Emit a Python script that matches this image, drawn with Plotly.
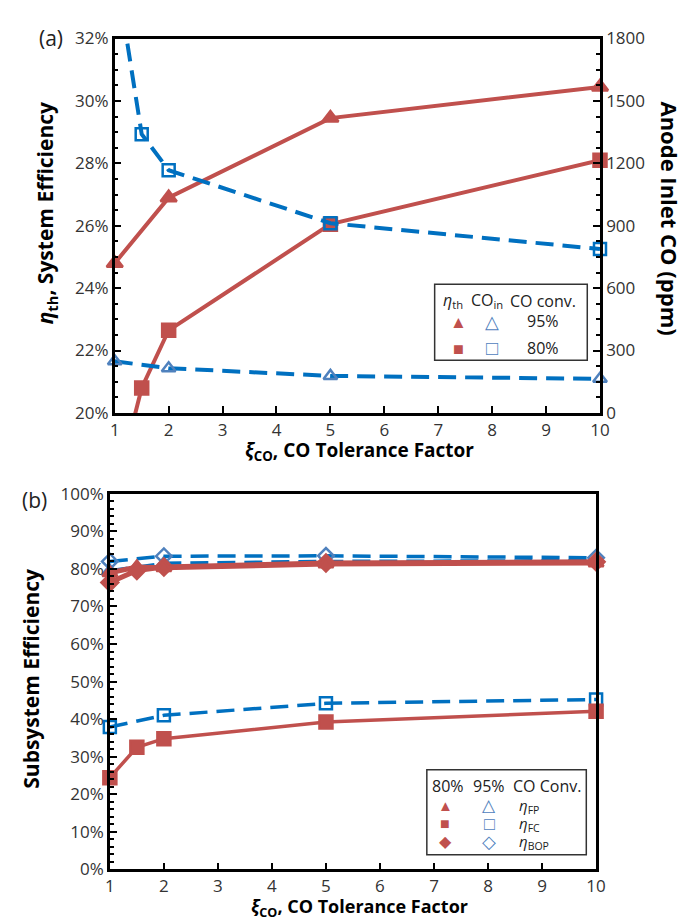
import plotly.graph_objects as go

W, H = 692, 922

# ---------- data: panel (a) ----------
eta_th_95_x = [1, 2, 5, 10]
eta_th_95 = [24.8, 26.9, 29.45, 30.45]          # % (left axis)
eta_th_80_x = [1, 1.5, 2, 5, 10]
eta_th_80 = [17.4, 20.8, 22.65, 26.05, 28.1]     # % (left axis)
co_in_95_x = [1, 2, 5, 10]
co_in_95 = [248, 215, 178, 164]                  # ppm (right axis)
co_in_80_x = [1, 1.5, 2, 5, 10]
co_in_80 = [2160, 1340, 1167, 912, 788]          # ppm (right axis)

# ---------- data: panel (b) ----------
xb = [1, 1.5, 2, 5, 10]
xb95 = [1, 2, 5, 10]
fp_80 = [79.0, 80.5, 80.3, 81.3, 81.6]
fc_80 = [24.4, 32.5, 34.8, 39.2, 42.1]
bop_80 = [76.4, 79.6, 80.5, 81.6, 81.9]
fp_95 = [79.5, 81.5, 82.0, 82.2]
fc_95 = [37.9, 41.0, 44.2, 45.2]
bop_95 = [82.0, 83.4, 83.5, 83.0]

RED = "#C0504D"
BLUE = "#0070C0"
BLUE_L = "#4F81BD"
FONT = "Open Sans"
DASH = "18px,9px"

def px(x):
    return x / W

def py(y):
    return 1 - y / H

fig = go.Figure()

def add_series(x, y, xaxis, yaxis, color, dash, width, symbol, msize, mcolor, mline, rng):
    fig.add_trace(go.Scatter(x=x, y=y, mode="lines", xaxis=xaxis, yaxis=yaxis,
                             line=dict(color=color, width=width, dash=dash),
                             showlegend=False, hoverinfo="skip"))
    lo, hi = rng
    xs = [a for a, b in zip(x, y) if lo <= b <= hi]
    ys = [b for b in y if lo <= b <= hi]
    fig.add_trace(go.Scatter(x=xs, y=ys, mode="markers", xaxis=xaxis, yaxis=yaxis,
                             cliponaxis=False,
                             marker=dict(symbol=symbol, size=msize, color=mcolor,
                                         line=dict(color=mline, width=2.5)),
                             showlegend=False, hoverinfo="skip"))

# panel (a)
add_series(co_in_95_x, co_in_95, "x", "y2", BLUE, DASH, 4, "triangle-up-open", 12, BLUE_L, BLUE_L, (0, 1800))
add_series(co_in_80_x, co_in_80, "x", "y2", BLUE, DASH, 4, "square-open", 12, BLUE, BLUE, (0, 1800))
add_series(eta_th_95_x, eta_th_95, "x", "y", RED, "solid", 4, "triangle-up", 14, RED, RED, (20, 32))
add_series(eta_th_80_x, eta_th_80, "x", "y", RED, "solid", 4, "square", 13, RED, RED, (20, 32))

# panel (b)
add_series(xb95, fc_95, "x2", "y3", BLUE, DASH, 3.5, "square-open", 12, BLUE, BLUE, (0, 100))
add_series(xb95, fp_95, "x2", "y3", BLUE, DASH, 3.5, "triangle-up-open", 12, BLUE_L, BLUE_L, (0, 100))
add_series(xb95, bop_95, "x2", "y3", BLUE, DASH, 3.5, "diamond-open", 12, BLUE_L, BLUE_L, (0, 100))
add_series(xb, fc_80, "x2", "y3", RED, "solid", 3.5, "square", 13, RED, RED, (0, 100))
add_series(xb, bop_80, "x2", "y3", RED, "solid", 5, "diamond", 13, RED, RED, (0, 100))
add_series(xb, fp_80, "x2", "y3", RED, "solid", 5, "triangle-up", 13, RED, RED, (0, 100))

tickfont = dict(family=FONT, size=17, color="#333333")
axcommon = dict(showgrid=False, zeroline=False, showline=True, linecolor="black",
                linewidth=2.5, ticks="inside", ticklen=7, tickwidth=2, tickcolor="black",
                tickfont=tickfont)

fig.update_layout(
    width=W, height=H, autosize=False,
    margin=dict(l=0, r=0, t=0, b=0),
    plot_bgcolor="white", paper_bgcolor="white",
    showlegend=False,
    xaxis=dict(domain=[px(104), px(600)], anchor="y", range=[1, 10], dtick=1,
               mirror=True, **axcommon),
    yaxis=dict(domain=[py(403), py(19)], anchor="x", range=[20, 32], dtick=2,
               ticksuffix="%", mirror=False,
               minor=dict(ticks="inside", dtick=0.5, ticklen=4, tickwidth=1.5, tickcolor="black"),
               **axcommon),
    yaxis2=dict(overlaying="y", side="right", anchor="x", range=[0, 1800], dtick=300,
                minor=dict(ticks="inside", dtick=75, ticklen=4, tickwidth=1.5, tickcolor="black"),
                **axcommon),
    xaxis2=dict(domain=[px(99), px(596)], anchor="y3", range=[1, 10], dtick=1,
                mirror=True, **axcommon),
    yaxis3=dict(domain=[py(871), py(486)], anchor="x2", range=[0, 100], dtick=10,
                ticksuffix="%", mirror=True,
                minor=dict(ticks="inside", dtick=2, ticklen=4, tickwidth=1.5, tickcolor="black"),
                **axcommon),
)

ann = []

def text(x, y, s, size=16, bold=False, angle=0, xanchor="center", color="#222222"):
    if bold:
        s = "<b>" + s + "</b>"
    ann.append(dict(x=px(x), y=py(y), xref="paper", yref="paper", text=s, showarrow=False,
                    xanchor=xanchor, yanchor="middle", textangle=angle,
                    font=dict(family=FONT, size=size, color=color)))

# panel labels
text(39, 18, "(a)", size=21)
text(22, 492, "(b)", size=21)

# axis titles
text(354, 442, "<i>ξ</i><sub>CO</sub>, CO Tolerance Factor", size=19, bold=True, color="black")
text(354, 910, "<i>ξ</i><sub>CO</sub>, CO Tolerance Factor", size=18, bold=True, color="black")
text(34, 198, "<i>η</i><sub>th</sub>, System Efficiency", size=21, bold=True, angle=-90, color="black")
text(672, 204, "Anode Inlet CO (ppm)", size=22, bold=True, angle=90, color="black")
text(19, 676, "Subsystem Efficiency", size=21, bold=True, angle=-90, color="black")

# legend (a)
text(450, 288, "<i>η</i><sub>th</sub>", size=16)
text(484, 288, "CO<sub>in</sub>", size=16)
text(542, 288, "CO conv.", size=16)
text(455, 309, "▲", size=17, color=RED)
text(490, 309, "△", size=18, color=BLUE_L)
text(542, 309, "95%", size=16)
text(455, 336, "■", size=18, color=RED)
text(490, 336, "□", size=20, color=BLUE_L)
text(542, 336, "80%", size=16)

# legend (b)
text(445, 786, "80%", size=16)
text(487, 786, "95%", size=16)
text(546, 786, "CO Conv.", size=16)
text(442, 805, "▲", size=15, color=RED)
text(487, 805, "△", size=17, color=BLUE_L)
text(515, 806, "<i>η</i><sub>FP</sub>", size=15, xanchor="left")
text(442, 824, "■", size=16, color=RED)
text(487, 824, "□", size=18, color=BLUE_L)
text(515, 825, "<i>η</i><sub>FC</sub>", size=15, xanchor="left")
text(442, 842, "◆", size=16, color=RED)
text(487, 842, "◇", size=18, color=BLUE_L)
text(515, 843, "<i>η</i><sub>BOP</sub>", size=15, xanchor="left")

fig.update_layout(annotations=ann)

fig.update_layout(shapes=[
    dict(type="rect", xref="paper", yref="paper", x0=px(431), x1=px(587), y0=py(349), y1=py(271),
         line=dict(color="#333333", width=1.5), fillcolor="white", layer="below"),
    dict(type="rect", xref="paper", yref="paper", x0=px(423), x1=px(586), y0=py(856), y1=py(769),
         line=dict(color="#333333", width=1.5), fillcolor="white", layer="below"),
])

fig.write_html("out.html")
